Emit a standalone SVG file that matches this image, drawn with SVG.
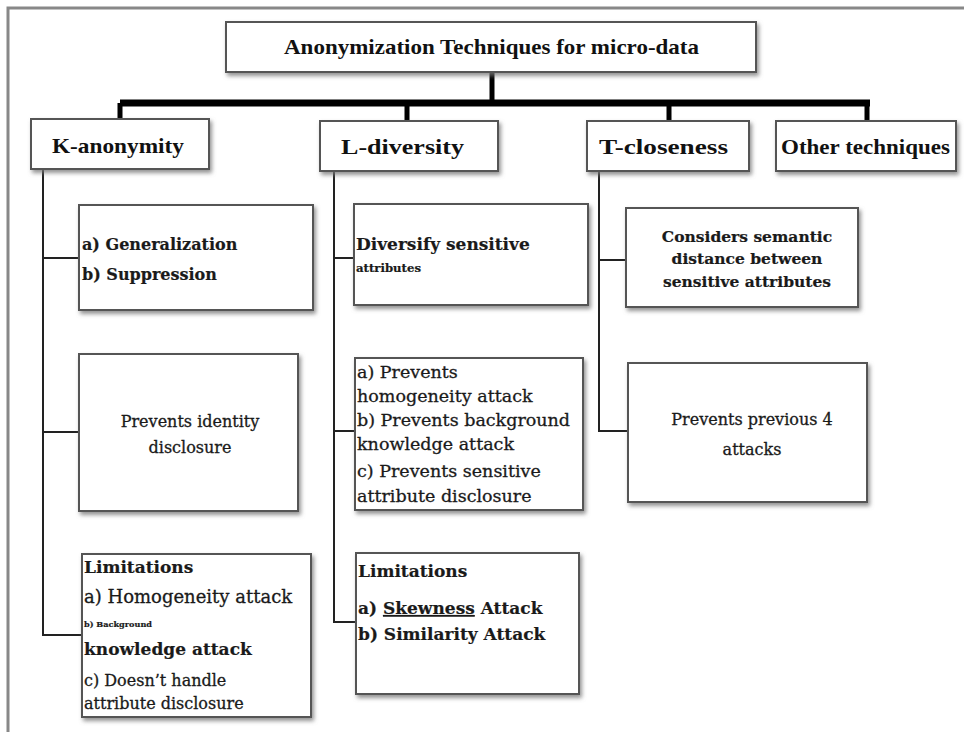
<svg xmlns="http://www.w3.org/2000/svg" width="964" height="732" viewBox="0 0 964 732">
<style>
.box{fill:#fff;stroke:#555;stroke-width:2;filter:url(#sh)}
.hd{font-family:"Liberation Serif","Times New Roman",serif;font-weight:bold;fill:#111}
.tx{font-family:"DejaVu Serif","Liberation Serif",serif;fill:#1a1a1a;stroke:#1a1a1a;stroke-width:0.3}
.b{font-weight:bold;stroke-width:0.2}
.thin{fill:none;stroke:#222;stroke-width:2}
.thick{fill:none;stroke:#000;stroke-width:5}
</style>
<defs>
<filter id="sh" x="-10%" y="-10%" width="125%" height="130%">
<feDropShadow dx="2" dy="3" stdDeviation="2" flood-color="#777" flood-opacity="0.8"/>
</filter>
</defs>
<rect width="964" height="732" fill="#fff"/>
<path d="M8,732 V8 H964" fill="none" stroke="#888" stroke-width="3"/>
<g id="connectors">
<path class="thick" d="M492,72 V103"/>
<path d="M120,103 H870" stroke="#000" stroke-width="7" fill="none"/>
<path class="thick" d="M120,103 V120 M407,103 V122 M669,103 V122 M867,103 V122"/>
<path class="thin" d="M43,170 V635 H82 M43,258 H79 M43,432 H79"/>
<path class="thin" d="M334,172 V622 H356 M334,258 H354 M334,431 H355"/>
<path class="thin" d="M599,172 V431 H628 M599,260 H626"/>
</g>
<g id="root">
<rect class="box" x="226" y="22" width="530" height="50"/>
<text class="hd" x="284" y="54" font-size="21" textLength="415" lengthAdjust="spacingAndGlyphs">Anonymization Techniques for micro-data</text>
</g>
<g id="k-anonymity">
<rect class="box" x="31" y="119" width="178" height="50"/>
<text class="hd" x="52" y="153" font-size="21" textLength="132" lengthAdjust="spacingAndGlyphs">K-anonymity</text>
</g>
<g id="l-diversity">
<rect class="box" x="320" y="121" width="178" height="50"/>
<text class="hd" x="341" y="154" font-size="21" textLength="123" lengthAdjust="spacingAndGlyphs">L-diversity</text>
</g>
<g id="t-closeness">
<rect class="box" x="587" y="121" width="162" height="50"/>
<text class="hd" x="599" y="154" font-size="21" textLength="129" lengthAdjust="spacingAndGlyphs">T-closeness</text>
</g>
<g id="other">
<rect class="box" x="776" y="121" width="180" height="50"/>
<text class="hd" x="781" y="154" font-size="21" textLength="169" lengthAdjust="spacingAndGlyphs">Other techniques</text>
</g>
<g id="k-methods">
<rect class="box" x="79" y="205" width="234" height="105"/>
<text class="tx b" x="82" y="250" font-size="16">a) Generalization</text>
<text class="tx b" x="82" y="280" font-size="16">b) Suppression</text>
</g>
<g id="k-prevents">
<rect class="box" x="79" y="354" width="219" height="157"/>
<text class="tx" x="190" y="427" font-size="16" text-anchor="middle">Prevents identity</text>
<text class="tx" x="190" y="453" font-size="16" text-anchor="middle">disclosure</text>
</g>
<g id="k-limitations">
<rect class="box" x="82" y="554" width="229" height="163"/>
<text class="tx b" x="84" y="573" font-size="17">Limitations</text>
<text class="tx" x="84" y="603" font-size="18">a) Homogeneity attack</text>
<text class="tx b" x="84" y="627" font-size="8" textLength="68" lengthAdjust="spacingAndGlyphs">b) Background</text>
<text class="tx b" x="84" y="655" font-size="17">knowledge attack</text>
<text class="tx" x="84" y="686" font-size="16">c) Doesn’t handle</text>
<text class="tx" x="84" y="709" font-size="16">attribute disclosure</text>
</g>
<g id="l-diversify">
<rect class="box" x="354" y="204" width="234" height="101"/>
<text class="tx b" x="356" y="250" font-size="17">Diversify sensitive</text>
<text class="tx b" x="356" y="272" font-size="11" textLength="65" lengthAdjust="spacingAndGlyphs">attributes</text>
</g>
<g id="l-prevents">
<rect class="box" x="355" y="358" width="228" height="152"/>
<text class="tx" x="357" y="378" font-size="17.5">a) Prevents</text>
<text class="tx" x="357" y="402" font-size="17.5">homogeneity attack</text>
<text class="tx" x="357" y="426" font-size="17.5">b) Prevents background</text>
<text class="tx" x="357" y="450" font-size="17.5">knowledge attack</text>
<text class="tx" x="357" y="477" font-size="17.5">c) Prevents sensitive</text>
<text class="tx" x="357" y="502" font-size="17.5">attribute disclosure</text>
</g>
<g id="l-limitations">
<rect class="box" x="356" y="553" width="223" height="141"/>
<text class="tx b" x="358" y="577" font-size="17">Limitations</text>
<text class="tx b" x="358" y="614" font-size="17">a) <tspan text-decoration="underline">Skewness</tspan> Attack</text>
<text class="tx b" x="358" y="640" font-size="17">b) Similarity Attack</text>
</g>
<g id="t-semantic">
<rect class="box" x="626" y="208" width="232" height="99"/>
<text class="tx b" x="747" y="242" font-size="15.5" text-anchor="middle">Considers semantic</text>
<text class="tx b" x="747" y="264" font-size="15.5" text-anchor="middle">distance between</text>
<text class="tx b" x="747" y="287" font-size="15.5" text-anchor="middle">sensitive attributes</text>
</g>
<g id="t-prevents">
<rect class="box" x="628" y="363" width="239" height="139"/>
<text class="tx" x="752" y="425" font-size="16" text-anchor="middle">Prevents previous 4</text>
<text class="tx" x="752" y="455" font-size="16" text-anchor="middle">attacks</text>
</g>
</svg>
